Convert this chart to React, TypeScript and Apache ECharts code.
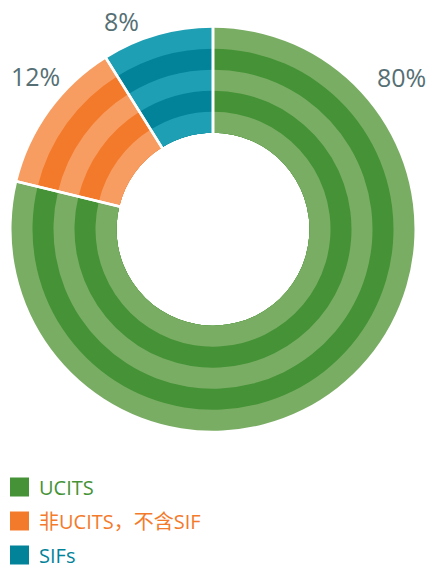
import React, { useEffect, useRef } from "react";
import * as echarts from "echarts";

const categories = ["UCITS", "非UCITS，不含SIF", "SIFs"];
const values = [78.8, 12.3, 8.9];
const valueLabels = ["80%", "12%", "8%"];
const lightColors = ["#7aad64", "#f89d62", "#1f9fb4"];
const darkColors = ["#459336", "#f47a2b", "#02839a"];

export default function App() {
  const ref = useRef<HTMLDivElement>(null);
  useEffect(() => {
    document.body.style.margin = "0";
    const chart = echarts.init(ref.current!, null, { renderer: "svg" });
    const center = [213, 229.2];
    const inner = 96.5;
    const outers = [201.5, 180.5, 159.5, 138.5, 117.5];
    const ringSeries = outers.map((r, i) => ({
      type: "pie",
      center,
      radius: [inner, r],
      startAngle: 90,
      clockwise: true,
      silent: true,
      label: { show: false },
      labelLine: { show: false },
      emphasis: { disabled: true },
      data: categories.map((name, k) => ({
        name,
        value: values[k],
        itemStyle: { color: i % 2 === 0 ? lightColors[k] : darkColors[k] },
      })),
    }));
    const borderSeries = {
      type: "pie",
      center,
      radius: [93, 205],
      startAngle: 90,
      clockwise: true,
      silent: true,
      label: { show: false },
      labelLine: { show: false },
      emphasis: { disabled: true },
      itemStyle: { color: "rgba(0,0,0,0)", borderColor: "#ffffff", borderWidth: 2.6 },
      data: categories.map((name, k) => ({ name, value: values[k] })),
    };
    const labelPos = [
      [377, 76.5],
      [11, 76],
      [104, 21],
    ];
    chart.setOption({
      animation: false,
      legend: {
        orient: "vertical",
        left: 10,
        top: 477,
        padding: 0,
        itemWidth: 19,
        itemHeight: 19,
        itemGap: 14,
        icon: "rect",
        selectedMode: false,
        textStyle: {
          fontSize: 20,
          fontFamily: "'Open Sans', 'Noto Sans CJK SC', sans-serif",
          padding: [0, 0, 0, 5],
        },
        data: categories.map((name, k) => ({
          name,
          itemStyle: { color: darkColors[k] },
          textStyle: { color: darkColors[k] },
        })),
      },
      graphic: valueLabels.map((t, k) => ({
        type: "text",
        x: labelPos[k][0],
        y: labelPos[k][1],
        silent: true,
        style: {
          text: t,
          fill: "#556f74",
          fontSize: 25,
          fontFamily: "'Open Sans', sans-serif",
          textAlign: "left",
          textVerticalAlign: "middle",
        },
      })),
      series: [...ringSeries, borderSeries],
    });
    return () => chart.dispose();
  }, []);
  return <div ref={ref} style={{ width: 427, height: 567 }} />;
}
